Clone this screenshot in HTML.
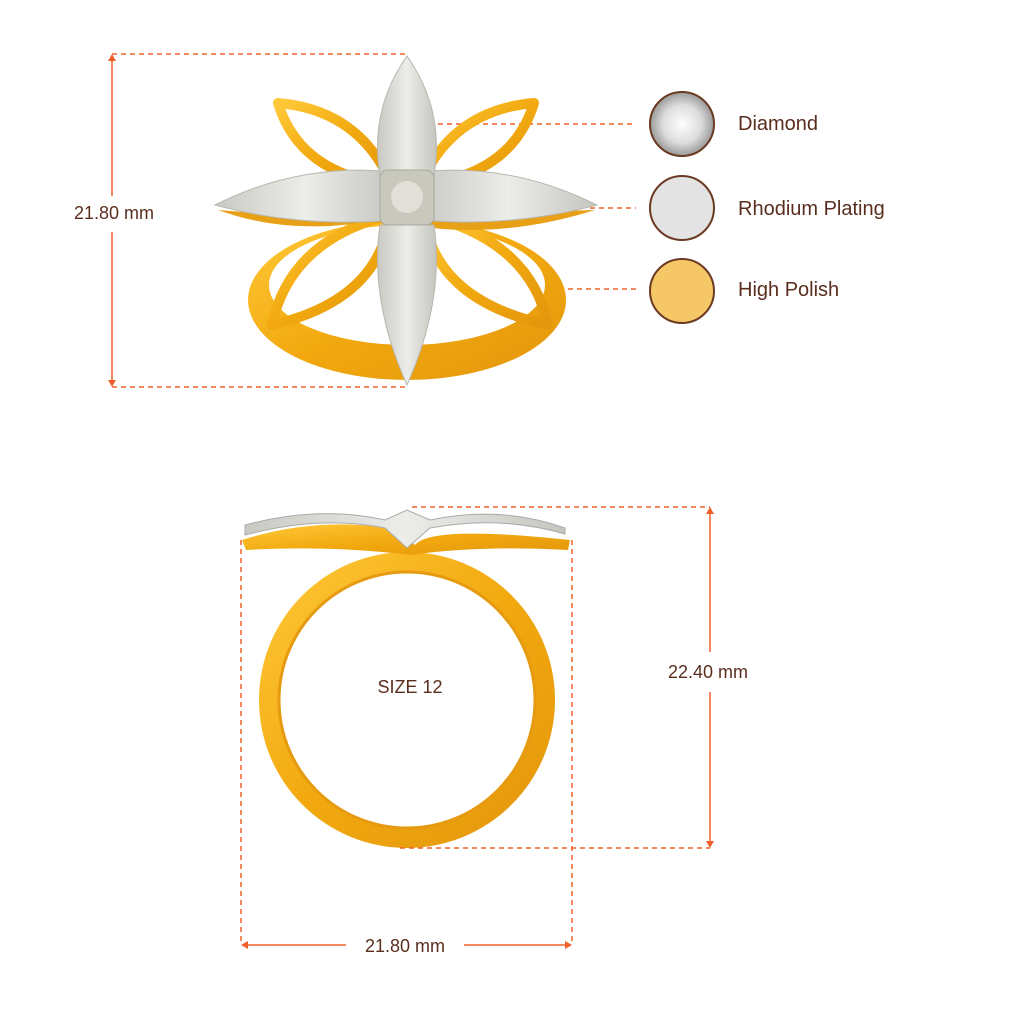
<!DOCTYPE html>
<html><head><meta charset="utf-8"><style>
html,body{margin:0;padding:0;background:#fff;width:1024px;height:1024px;overflow:hidden}
svg{display:block}
text{font-family:"Liberation Sans",sans-serif;fill:#5a2e1e}
</style></head><body>
<svg width="1024" height="1024" viewBox="0 0 1024 1024" xmlns="http://www.w3.org/2000/svg">
<defs>
<linearGradient id="g" x1="0" y1="0" x2="1" y2="1"><stop offset="0" stop-color="#ffc93a"/><stop offset="0.5" stop-color="#f2a90f"/><stop offset="1" stop-color="#e3960c"/></linearGradient>
<linearGradient id="d" x1="0" y1="0" x2="1" y2="0"><stop offset="0" stop-color="#c9c9c4"/><stop offset="0.5" stop-color="#ecece8"/><stop offset="1" stop-color="#c5c5c0"/></linearGradient>
<radialGradient id="dia"><stop offset="0" stop-color="#fff"/><stop offset="0.6" stop-color="#dcdcdc"/><stop offset="1" stop-color="#9a9a9a"/></radialGradient>
</defs>

<g stroke="#f0602a" stroke-width="1.5" stroke-dasharray="5,4" fill="none">
<line x1="112" y1="54" x2="408" y2="54"/>
<line x1="112" y1="387" x2="408" y2="387"/>
<line x1="420" y1="124" x2="636" y2="124"/>
<line x1="590" y1="208" x2="636" y2="208"/>
<line x1="550" y1="289" x2="636" y2="289"/>
</g>
<g stroke="#f0602a" stroke-width="1.5">
<line x1="112" y1="58" x2="112" y2="196"/>
<line x1="112" y1="232" x2="112" y2="383"/>
</g>
<path d="M112 54 l-4 7 h8z M112 387 l-4 -7 h8z" fill="#f0602a"/>
<text x="114" y="219" font-size="18" text-anchor="middle">21.80 mm</text>

<ellipse cx="407" cy="300" rx="159" ry="80" fill="url(#g)"/>
<ellipse cx="407" cy="285" rx="138" ry="60" fill="#fff"/>
<g fill="none" stroke="url(#g)" stroke-width="10" stroke-linejoin="round">
<path d="M278 103 Q360 110 392 185 Q300 175 278 103Z"/>
<path d="M534 103 Q452 110 420 185 Q512 175 534 103Z"/>
<path d="M272 325 Q290 240 390 215 Q380 300 272 325Z"/>
<path d="M548 325 Q530 240 424 215 Q434 300 548 325Z"/>
</g>
<path d="M218 210 Q300 240 400 215 L595 210 Q500 240 410 225Z" fill="#e8a116"/>
<path d="M215 205 Q300 162 395 172 L395 220 Q300 228 215 205Z" fill="url(#d)" stroke="#b8b8b0"/>
<path d="M597 205 Q510 162 420 172 L420 220 Q510 228 597 205Z" fill="url(#d)" stroke="#b8b8b0"/>
<path d="M407 56 Q445 110 434 175 L380 175 Q369 110 407 56Z" fill="url(#d)" stroke="#b8b8b0"/>
<path d="M407 385 Q445 300 434 225 L380 225 Q369 300 407 385Z" fill="url(#d)" stroke="#b8b8b0"/>
<rect x="380" y="170" width="54" height="55" rx="8" fill="#c8c8bd" stroke="#a8a89c"/>
<circle cx="407" cy="197" r="16" fill="#e0e0d8"/>

<circle cx="682" cy="124" r="32" fill="url(#dia)" stroke="#6b3a22" stroke-width="2"/>
<circle cx="682" cy="208" r="32" fill="#e3e3e3" stroke="#6b3a22" stroke-width="2"/>
<circle cx="682" cy="291" r="32" fill="#f5c766" stroke="#6b3a22" stroke-width="2"/>
<text x="738" y="130" font-size="20">Diamond</text>
<text x="738" y="215" font-size="20">Rhodium Plating</text>
<text x="738" y="296" font-size="20">High Polish</text>

<ellipse cx="407" cy="700" rx="148" ry="148" fill="url(#g)"/>
<ellipse cx="407" cy="700" rx="128" ry="128" fill="#fff" stroke="#e59a10" stroke-width="3"/>
<path d="M242 540 Q320 515 400 530 L415 545 Q430 525 570 540 L568 550 Q480 545 410 555 Q330 545 246 550Z" fill="url(#g)"/>
<path d="M245 525 Q320 505 385 520 L407 510 L430 520 Q500 505 565 528 L565 534 Q500 515 430 528 L407 548 L385 528 Q320 515 245 535Z" fill="url(#d)" stroke="#aaa"/>

<g stroke="#f0602a" stroke-width="1.5" stroke-dasharray="5,4" fill="none">
<line x1="241" y1="540" x2="241" y2="945"/>
<line x1="572" y1="540" x2="572" y2="945"/>
<line x1="412" y1="507" x2="710" y2="507"/>
<line x1="400" y1="848" x2="710" y2="848"/>
</g>
<g stroke="#f0602a" stroke-width="1.5">
<line x1="244" y1="945" x2="346" y2="945"/>
<line x1="464" y1="945" x2="569" y2="945"/>
<line x1="710" y1="510" x2="710" y2="652"/>
<line x1="710" y1="692" x2="710" y2="845"/>
</g>
<path d="M241 945 l7 -4 v8z M572 945 l-7 -4 v8z M710 507 l-4 7 h8z M710 848 l-4 -7 h8z" fill="#f0602a"/>
<text x="405" y="952" font-size="18" text-anchor="middle">21.80 mm</text>
<text x="708" y="678" font-size="18" text-anchor="middle">22.40 mm</text>
<text x="410" y="693" font-size="18" text-anchor="middle">SIZE 12</text>
</svg>
</body></html>
